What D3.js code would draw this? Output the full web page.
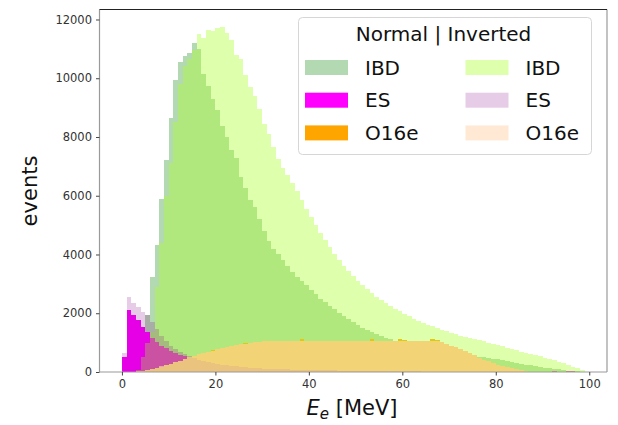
<!DOCTYPE html>
<html><head><meta charset="utf-8">
<script src="https://cdn.jsdelivr.net/npm/d3@7"></script>
<style>body{margin:0;background:#fff}svg{display:block;font-family:"DejaVu Sans",sans-serif}</style>
</head><body><svg id="c" width="618" height="425"></svg>
<script>
// bin lower edges (MeV), width 1
const binEdges = d3.range(0, 101);
const ibdNormal = [0,0,0,0,80,1950,3240,4320,5875,7210,8640,9930,10560,10750,10850,11215,11010,10160,9730,9310,
 8910,8370,8005,7550,7270,6645,6260,5850,5600,5200,4800,4450,4200,4000,3800,3600,3420,3250,3100,2950,
 2800,2650,2500,2370,2250,2130,2010,1900,1790,1690,1600,1510,1430,1350,1280,1220,1160,1110,1060,1020,
 980,950,910,880,850,820,790,760,730,700,680,650,620,600,570,550,520,500,480,450,
 430,400,370,340,310,280,250,225,200,175,150,130,110,90,70,50,35,20,10,0];
const ibdInverted = [0,0,0,60,500,1000,1350,2900,4400,6000,7100,8500,9800,10400,10650,10950,11520,11370,11635,11600,
 11700,11760,11555,11295,10785,10640,10100,9685,9400,8950,8450,8100,7650,7250,6950,6700,6430,6150,5850,5560,
 5270,5000,4740,4490,4250,4030,3820,3620,3440,3270,3110,2960,2820,2690,2570,2460,2350,2250,2150,2060,
 1970,1890,1810,1740,1670,1610,1550,1490,1430,1380,1330,1280,1230,1190,1150,1110,1080,1040,1000,960,
 920,880,830,780,740,690,650,610,570,530,490,450,400,350,300,240,180,120,60,15];
const esNormal = [520,2110,1940,1770,1540,1370,1150,1020,900,800,720,650,590,540,490,450,410,380,350,320,
 290,270,255,240,225,210,195,180,170,160,150,142,134,127,120,113,107,101,96,91,
 86,82,78,74,70,66,63,60,57,54,51,48,45,43,41,39,37,35,33,31,
 29,27,25,23,22,21,20,19,18,17,16,15,14,13,12,11,10,10,9,9,
 0,0,0,0,0,0,0,0,0,0,0,0,40,0,0,30,45,0,0,0];
const esInverted = [640,2540,2360,2200,2050,1940,1700,1450,1230,1050,900,780,680,600,530,460,410,370,330,300,
 270,245,225,205,190,175,160,148,136,125,115,108,102,97,92,87,83,79,75,71,
 68,65,62,59,56,53,50,47,45,43,41,39,37,35,33,31,29,27,26,25,
 24,22,20,18,17,16,15,14,13,12,11,10,9,8,8,7,7,6,6,5,
 0,0,0,0,0,0,0,0,0,0,0,0,0,0,0,0,0,0,0,0];
const o16eNormal = [0,5,15,25,45,75,105,150,185,235,280,325,370,440,495,550,600,655,685,735,
 770,810,855,880,925,940,975,990,1020,1025,1040,1055,1060,1050,1065,1055,1060,1050,1110,1060,
 1050,1065,1055,1060,1070,1050,1060,1055,1065,1050,1060,1055,1060,1115,1060,1050,1055,1060,1065,1110,
 1100,1060,1050,1055,1060,1065,1115,1100,1010,955,900,835,780,715,640,565,490,420,360,300,
 250,210,170,130,90,55,25,10,0,0,0,0,0,0,0,0,0,0,0,0];
const o16eInverted = [0,5,15,30,45,80,110,150,190,240,280,330,380,440,500,560,610,650,690,730,
 775,815,850,885,920,945,970,995,1015,1030,1045,1060,1065,1060,1065,1070,1065,1060,1065,1070,
 1065,1070,1060,1065,1070,1065,1060,1065,1070,1065,1060,1065,1070,1065,1070,1060,1065,1070,1065,1060,
 1070,1065,1060,1065,1070,1065,1060,1040,1010,960,900,840,780,720,640,570,490,420,360,300,
 250,210,170,130,90,55,25,10,0,0,0,0,0,0,0,0,0,0,0,0];
const xTicks = [0, 20, 40, 60, 80, 100];
const yTicks = [0, 2000, 4000, 6000, 8000, 10000, 12000];
const legendLabels = ["IBD", "ES", "O16e"];

const series = [
  {name:"IBD", col:0, data: ibdNormal, color:"green", op:0.3},
  {name:"ES", col:0, data: esNormal, color:"magenta", op:1},
  {name:"O16e", col:0, data: o16eNormal, color:"orange", op:1},
  {name:"IBD", col:1, data: ibdInverted, color:"#adff2f", op:0.4},
  {name:"ES", col:1, data: esInverted, color:"purple", op:0.2},
  {name:"O16e", col:1, data: o16eInverted, color:"#ffdab9", op:0.6}
];

const svg = d3.select("#c");
const L = 99.5, R = 607, T = 9.5, B = 372;
const x = d3.scaleLinear().domain([-4.8, 103.8]).range([L, R]);
const y = d3.scaleLinear().domain([0, 12340]).range([B, T]);

const area = d3.area().curve(d3.curveStepAfter)
  .x(d => Math.round(x(d[0]))).y0(Math.round(y(0))).y1(d => Math.round(y(d[1])));

series.forEach(s => {
  const pts = s.data.map((v, i) => [binEdges[i], v]);
  pts.push([binEdges[s.data.length], s.data[s.data.length - 1]]);
  svg.append("path").attr("d", area(pts))
    .attr("fill", s.color).attr("fill-opacity", s.op);
});

// spines
const spine = "#9a9a9a";
svg.append("line").attr("x1", L).attr("x2", L).attr("y1", T).attr("y2", B).attr("stroke", spine).attr("stroke-width", 1.2);
svg.append("line").attr("x1", L).attr("x2", R).attr("y1", B).attr("y2", B).attr("stroke", spine).attr("stroke-width", 1.2);
svg.append("line").attr("x1", R).attr("x2", R).attr("y1", T).attr("y2", B).attr("stroke", spine).attr("stroke-width", 1.2);
svg.append("line").attr("x1", L).attr("x2", R).attr("y1", T).attr("y2", T).attr("stroke", "#222").attr("stroke-width", 1);

// axes
const xa = svg.append("g").attr("transform", `translate(0,${B})`)
  .call(d3.axisBottom(x).tickValues(xTicks).tickSize(3.5).tickPadding(4).tickFormat(d3.format("d")));
const ya = svg.append("g").attr("transform", `translate(${L},0)`)
  .call(d3.axisLeft(y).tickValues(yTicks).tickSize(3.5).tickPadding(4).tickFormat(d3.format("d")));
[xa, ya].forEach(g => {
  g.select(".domain").remove();
  g.selectAll(".tick line").attr("stroke", "#444");
  g.selectAll(".tick text").attr("fill", "#333").style("font-size", "11.5px").style("font-family", "DejaVu Sans");
});

// axis labels
svg.append("text").attr("transform", "translate(37,191) rotate(-90)").attr("text-anchor", "middle")
  .style("font-size", "21px").attr("fill", "#111").text("events");
const xl = svg.append("text").attr("x", 352).attr("y", 415).attr("text-anchor", "middle")
  .style("font-size", "21px").attr("fill", "#111");
xl.append("tspan").style("font-style", "italic").text("E");
xl.append("tspan").style("font-style", "italic").style("font-size", "15px").attr("dy", 4).text("e");
xl.append("tspan").attr("dy", -4).text(" [MeV]");

// legend
const lg = svg.append("g");
lg.append("rect").attr("x", 298.5).attr("y", 17.5).attr("width", 293).attr("height", 137).attr("rx", 4)
  .attr("fill", "#fff").attr("fill-opacity", 0.8).attr("stroke", "#d6d6d6");
lg.append("text").attr("x", 443.5).attr("y", 41).attr("text-anchor", "middle")
  .style("font-size", "20px").attr("fill", "#111").text("Normal | Inverted");
series.forEach((s, i) => {
  const row = i % 3, col = s.col;
  const px = col === 0 ? 305 : 465.5;
  const py = 60 + row * 32.7;
  lg.append("rect").attr("x", px).attr("y", py).attr("width", 43).attr("height", 15)
    .attr("fill", s.color).attr("fill-opacity", s.op);
  lg.append("text").attr("x", px + 60).attr("y", py + 14.5)
    .style("font-size", "20px").attr("fill", "#111").text(legendLabels[row]);
});
</script></body></html>
